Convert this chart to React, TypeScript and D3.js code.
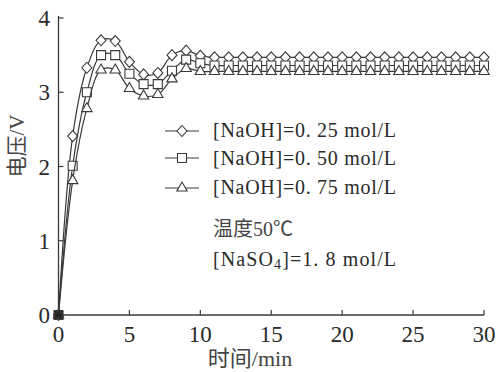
import React from "react";
import * as d3 from "d3";

const times = d3.range(0, 31);
const s025 = [0, 2.41, 3.33, 3.70, 3.69, 3.41, 3.24, 3.26, 3.50, 3.56, 3.49, 3.47, 3.47, 3.47, 3.47, 3.47, 3.47, 3.47, 3.47, 3.47, 3.47, 3.47, 3.47, 3.47, 3.47, 3.47, 3.47, 3.47, 3.47, 3.47, 3.47];
const s050 = [0, 2.01, 3.0, 3.50, 3.50, 3.25, 3.11, 3.11, 3.29, 3.44, 3.39, 3.36, 3.36, 3.36, 3.36, 3.36, 3.36, 3.36, 3.36, 3.36, 3.36, 3.36, 3.36, 3.36, 3.36, 3.36, 3.36, 3.36, 3.36, 3.36, 3.36];
const s075 = [0, 1.81, 2.78, 3.30, 3.30, 3.05, 2.95, 2.97, 3.18, 3.32, 3.28, 3.28, 3.28, 3.28, 3.28, 3.28, 3.28, 3.28, 3.28, 3.28, 3.28, 3.28, 3.28, 3.28, 3.28, 3.28, 3.28, 3.28, 3.28, 3.28, 3.28];
const seriesNames = ["[NaOH]=0. 25 mol/L", "[NaOH]=0. 50 mol/L", "[NaOH]=0. 75 mol/L"];
const markerTypes = ["diamond", "square", "triangle"];
const xTicks = [0, 5, 10, 15, 20, 25, 30];
const yTicks = [0, 1, 2, 3, 4];

const FONT = "'Liberation Serif', 'Noto Sans CJK SC', serif";
const INK = "#3a3a3a";
const TXT = "#2a2a2a";

function markerPath(type: string, cx: number, cy: number) {
  if (type === "diamond") {
    return `M${cx},${cy - 5.5}L${cx + 5},${cy}L${cx},${cy + 5.5}L${cx - 5},${cy}Z`;
  }
  if (type === "square") {
    return `M${cx - 4.5},${cy - 4.5}h9v9h-9Z`;
  }
  return `M${cx},${cy - 6}L${cx + 5.2},${cy + 3}L${cx - 5.2},${cy + 3}Z`;
}

export default function App() {
  const x = d3.scaleLinear().domain([0, 30]).range([58.5, 484]);
  const y = d3.scaleLinear().domain([0, 4]).range([315, 18]);
  const all = [s025, s050, s075];
  const line = d3
    .line<number>()
    .x((_, i) => x(times[i]))
    .y((d) => y(d))
    .curve(d3.curveCatmullRom.alpha(0.5));

  const legendY = [131, 158, 188];
  const legendTextY = [137, 165, 194];

  return (
    <svg width={498} height={372} style={{ position: "absolute", left: 0, top: 0, background: "#fff" }}>
      <rect width={498} height={372} fill="#fff" />
      <line x1={x(0)} x2={x(0)} y1={y(4) - 2} y2={y(0)} stroke={INK} strokeWidth={1.3} />
      <line x1={x(0)} x2={x(30)} y1={y(0)} y2={y(0)} stroke={INK} strokeWidth={1.3} />
      {yTicks.map((t) => (
        <g key={"y" + t}>
          <line x1={x(0)} x2={x(0) + 5} y1={y(t)} y2={y(t)} stroke={INK} strokeWidth={1.2} />
          <text x={50} y={y(t)} dy="0.35em" textAnchor="end" fontFamily={FONT} fontSize={23} fill={TXT}>
            {t}
          </text>
        </g>
      ))}
      {xTicks.map((t) => (
        <g key={"x" + t}>
          <line x1={x(t)} x2={x(t)} y1={y(0)} y2={y(0) - 5} stroke={INK} strokeWidth={1.2} />
          <text x={x(t)} y={342} textAnchor="middle" fontFamily={FONT} fontSize={23} fill={TXT}>
            {t}
          </text>
        </g>
      ))}
      <text x={250} y={366} textAnchor="middle" fontFamily={FONT} fontSize={22} fill="#444">
        时间/min
      </text>
      <text
        transform={`translate(24,146) rotate(-90)`}
        textAnchor="middle"
        fontFamily={FONT}
        fontSize={21}
        fill="#444"
      >
        电压/V
      </text>
      {all.map((s, si) => (
        <g key={"s" + si}>
          <path d={line(s) || ""} fill="none" stroke={INK} strokeWidth={1.2} />
          {s.map((v, i) => (
            <path
              key={i}
              d={markerPath(markerTypes[si], x(times[i]), y(v))}
              fill={i === 0 ? "#222" : "#fff"}
              stroke={INK}
              strokeWidth={1.1}
            />
          ))}
        </g>
      ))}
      {seriesNames.map((n, i) => (
        <g key={"l" + i}>
          <line x1={165} x2={199} y1={legendY[i]} y2={legendY[i]} stroke={INK} strokeWidth={1.2} />
          <path d={markerPath(markerTypes[i], 182, legendY[i])} fill="#fff" stroke={INK} strokeWidth={1.1} />
          <text x={213} y={legendTextY[i]} fontFamily={FONT} fontSize={20} fill={TXT} textLength={183} lengthAdjust="spacing">
            {n}
          </text>
        </g>
      ))}
      <text x={213} y={236} fontFamily={FONT} fontSize={20} fill="#444">
        温度50℃
      </text>
      <text x={213} y={266} fontFamily={FONT} fontSize={20} fill={TXT} textLength={183} lengthAdjust="spacing">
        [NaSO<tspan fontSize={14} dy={3}>4</tspan><tspan dy={-3}>]=1. 8 mol/L</tspan>
      </text>
    </svg>
  );
}
